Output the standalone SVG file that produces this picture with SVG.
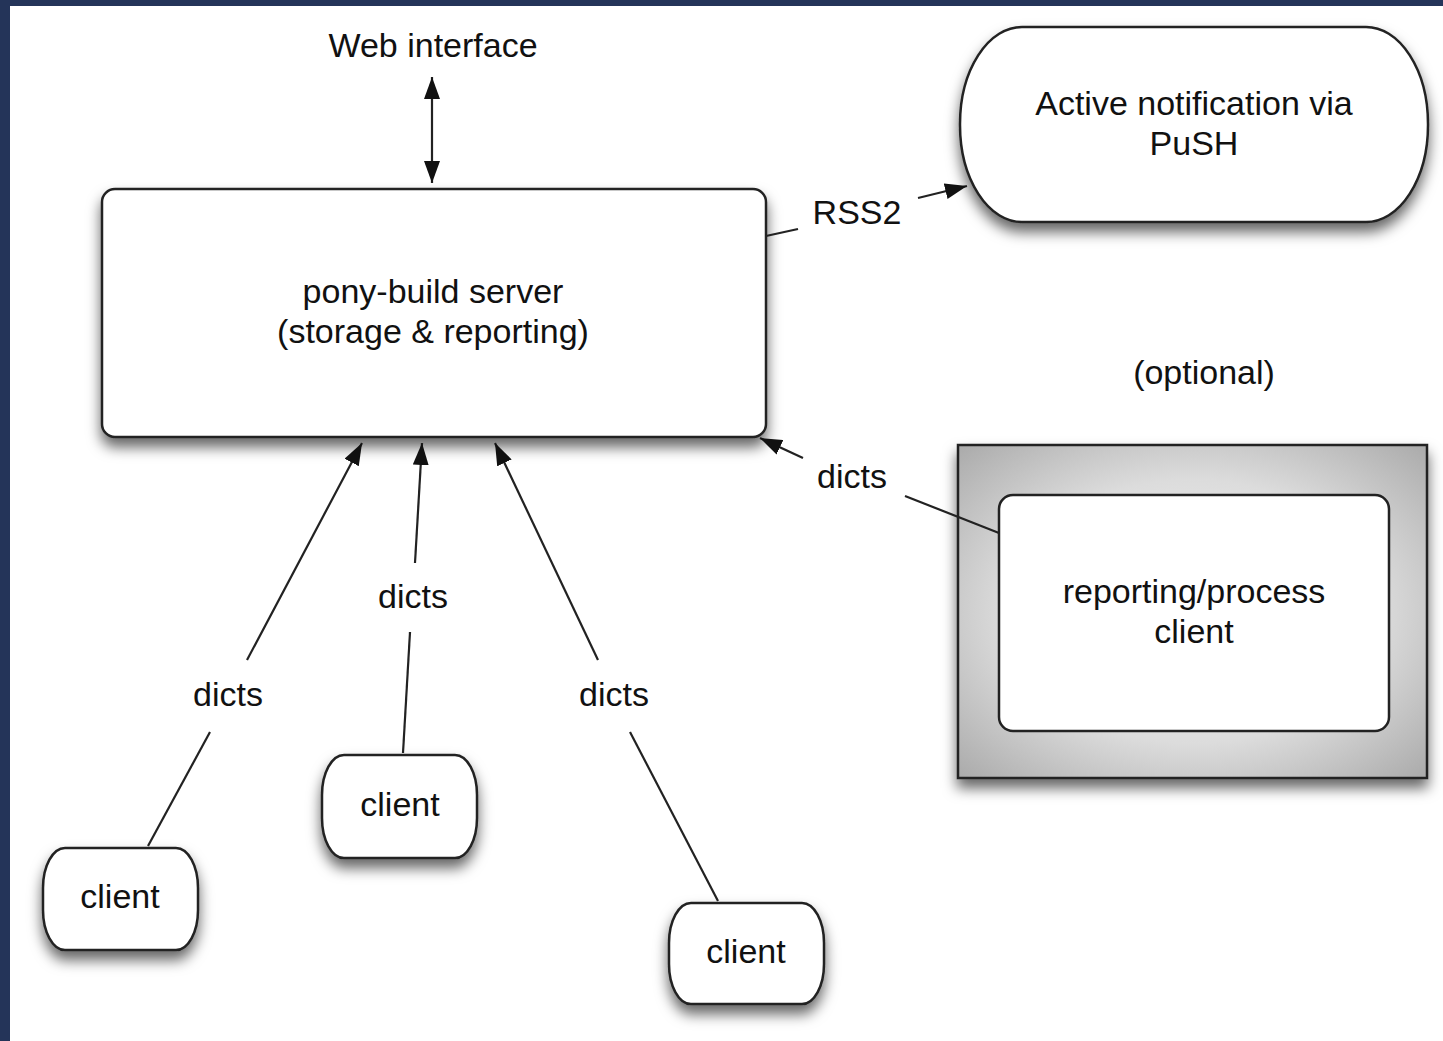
<svg xmlns="http://www.w3.org/2000/svg" width="1443" height="1041" viewBox="0 0 1443 1041">
<style>
  .lbl { font-family: "Liberation Sans", Arial, sans-serif; font-size: 34px; fill: #111; text-anchor: middle; }
  .edge { stroke: #222; stroke-width: 2.2; fill: none; }
  .node { fill: #fff; stroke: #222; stroke-width: 2.5; }
</style>
<defs>
  <marker id="ah" markerWidth="22" markerHeight="16" refX="22" refY="8" orient="auto-start-reverse" markerUnits="userSpaceOnUse">
    <path d="M0,0 L22,8 L0,16 z" fill="#111"/>
  </marker>
  <filter id="sh" x="-20%" y="-20%" width="140%" height="150%">
    <feDropShadow dx="0" dy="9" stdDeviation="7" flood-color="#000" flood-opacity="0.6"/>
  </filter>
  <radialGradient id="gray" cx="50%" cy="50%" r="72%">
    <stop offset="0%" stop-color="#f6f6f6"/>
    <stop offset="55%" stop-color="#dcdcdc"/>
    <stop offset="100%" stop-color="#a8a8a8"/>
  </radialGradient>
</defs>
<rect x="0" y="0" width="1443" height="1041" fill="#243459"/>
<rect x="10" y="6" width="1433" height="1035" fill="#ffffff"/>

<g id="web-interface">
  <text class="lbl" x="433" y="57">Web interface</text>
</g>

<g id="server">
  <rect class="node" x="102" y="189" width="664" height="248" rx="13" ry="13" filter="url(#sh)"/>
  <text class="lbl" x="433" y="303">pony-build server</text>
  <text class="lbl" x="433" y="343">(storage &amp; reporting)</text>
</g>

<g id="push">
  <rect class="node" x="960" y="27" width="468" height="195" rx="62" ry="97" filter="url(#sh)"/>
  <text class="lbl" x="1194" y="115">Active notification via</text>
  <text class="lbl" x="1194" y="155">PuSH</text>
</g>

<g id="optional-label">
  <text class="lbl" x="1204" y="384">(optional)</text>
</g>

<g id="reporting-client">
  <rect x="958" y="445" width="469" height="333" fill="url(#gray)" stroke="#222" stroke-width="2.5" filter="url(#sh)"/>
  <rect class="node" x="999" y="495" width="390" height="236" rx="14" ry="14"/>
  <text class="lbl" x="1194" y="603">reporting/process</text>
  <text class="lbl" x="1194" y="643">client</text>
</g>

<g id="client1">
  <rect class="node" x="43" y="848" width="155" height="102" rx="22" ry="40" filter="url(#sh)"/>
  <text class="lbl" x="120" y="908">client</text>
</g>
<g id="client2">
  <rect class="node" x="322" y="755" width="155" height="103" rx="22" ry="40" filter="url(#sh)"/>
  <text class="lbl" x="400" y="816">client</text>
</g>
<g id="client3">
  <rect class="node" x="669" y="903" width="155" height="101" rx="22" ry="40" filter="url(#sh)"/>
  <text class="lbl" x="746" y="963">client</text>
</g>

<g id="connectors">
  <line class="edge" x1="432" y1="77" x2="432" y2="183" marker-start="url(#ah)" marker-end="url(#ah)"/>

  <line class="edge" x1="766" y1="236" x2="798" y2="229"/>
  <line class="edge" x1="918" y1="198" x2="967" y2="186" marker-end="url(#ah)"/>
  <text class="lbl" x="857" y="224">RSS2</text>

  <line class="edge" x1="999" y1="533" x2="905" y2="496"/>
  <line class="edge" x1="803" y1="458" x2="760" y2="438" marker-end="url(#ah)"/>
  <text class="lbl" x="852" y="488">dicts</text>

  <line class="edge" x1="148" y1="846" x2="210" y2="732"/>
  <line class="edge" x1="247" y1="660" x2="362" y2="443" marker-end="url(#ah)"/>
  <text class="lbl" x="228" y="706">dicts</text>

  <line class="edge" x1="403" y1="753" x2="410" y2="632"/>
  <line class="edge" x1="415" y1="563" x2="422" y2="443" marker-end="url(#ah)"/>
  <text class="lbl" x="413" y="608">dicts</text>

  <line class="edge" x1="718" y1="901" x2="630" y2="732"/>
  <line class="edge" x1="598" y1="660" x2="495" y2="443" marker-end="url(#ah)"/>
  <text class="lbl" x="614" y="706">dicts</text>
</g>
</svg>
